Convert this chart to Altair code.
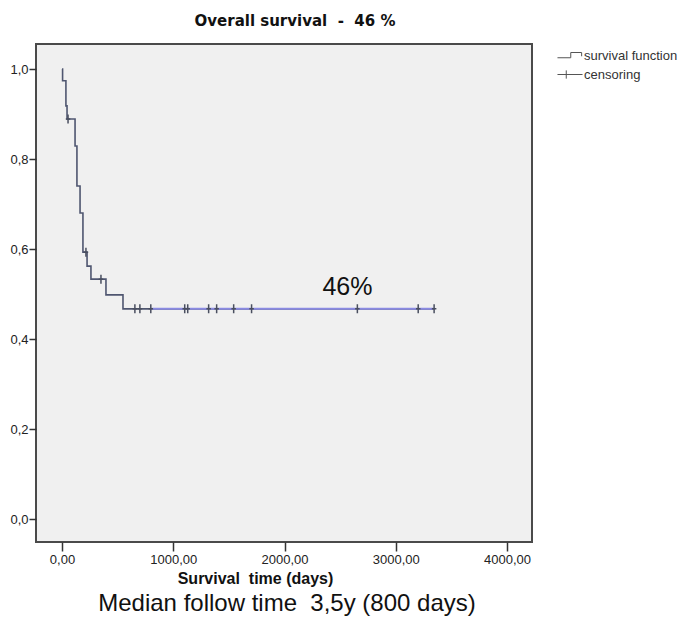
import altair as alt
import pandas as pd

# Kaplan-Meier step curve (time in days, survival after the step)
step_time = [0, 5, 35, 45, 117, 134, 162, 188, 225, 260, 395, 548, 3345]
step_surv = [1.0, 0.974, 0.918, 0.889, 0.829, 0.740, 0.680, 0.593, 0.562, 0.533, 0.498, 0.467, 0.467]
# tail segment (drawn lighter, as in the picture)
tail_time = [798, 3345]
tail_surv = [0.467, 0.467]
# censored observations
cens_time = [54, 215, 350, 655, 700, 798, 1103, 1130, 1318, 1390, 1543, 1704, 2655, 3202, 3345]
cens_surv = [0.889, 0.593, 0.533] + [0.467] * 12
x_ticks = [0, 1000, 2000, 3000, 4000]
y_ticks = [0.0, 0.2, 0.4, 0.6, 0.8, 1.0]
legend_labels = ["survival function", "censoring"]
annot_text = ["46%"]
annot_time = [2566]
annot_surv = [0.498]
title_text = ["Overall survival  -  46 %"]
footnote = ["Median follow time  3,5y (800 days)"]

FONT = "Liberation Sans"
nb = lambda s: s.replace("  ", "\u00a0\u00a0")

step_df = pd.DataFrame({"t": step_time, "s": step_surv})
tail_df = pd.DataFrame({"t": tail_time, "s": tail_surv})
cens_df = pd.DataFrame({"t": cens_time, "s": cens_surv})
leg_df = pd.DataFrame({"series": legend_labels})
ann_df = pd.DataFrame({"t": annot_time, "s": annot_surv, "label": annot_text})
foot_df = pd.DataFrame({"label": [nb(f) for f in footnote]})
title_df = pd.DataFrame({"label": [nb(f) for f in title_text]})

xs = alt.Scale(domain=[-234, 4225], nice=False, zero=False)
ys = alt.Scale(domain=[-0.0511, 1.0556], nice=False, zero=False)

x_axis = alt.Axis(
    values=x_ticks,
    labelExpr="replace(format(datum.value, '.2f'), '.', ',')",
    tickSize=9, tickWidth=1.5, tickColor="#333",
    labelPadding=2, labelFontSize=13, labelColor="#222",
    domain=False, grid=False,
    title="Survival\u00a0\u00a0time (days)",
    titleFontSize=16, titleFontWeight="bold", titleColor="#111",
    titleX=219, titleY=41, titleBaseline="alphabetic", titleAlign="center",
)
y_axis = alt.Axis(
    values=y_ticks,
    labelExpr="replace(format(datum.value, '.1f'), '.', ',')",
    tickSize=7, tickWidth=1.5, tickColor="#333",
    labelPadding=1, labelFontSize=13, labelColor="#222",
    domain=False, grid=False, title=None,
)

line = alt.Chart(step_df).mark_line(
    interpolate="step-after", color="#4f5670", strokeWidth=1.6
).encode(
    x=alt.X("t:Q", scale=xs, axis=x_axis),
    y=alt.Y("s:Q", scale=ys, axis=y_axis),
)

tail = alt.Chart(tail_df).mark_line(color="#8a8ae2", strokeWidth=2).encode(
    x=alt.X("t:Q", scale=xs), y=alt.Y("s:Q", scale=ys)
)

cens = alt.Chart(cens_df).mark_point(
    shape="M 0 -1 V 1 M -0.5 0 H 0.5", size=81, filled=False,
    strokeWidth=1.5, color="#4a4f60", opacity=1,
).encode(x=alt.X("t:Q", scale=xs), y=alt.Y("s:Q", scale=ys))

step_path = "M -1.67 0.3 H 0.1 V -0.4 H 1.55 V 0.1"
cross_path = "M -1.67 0 H 1.67 M -0.5 -0.55 V 0.55"

legend_layer = alt.Chart(leg_df).mark_point(filled=False, color="#555").encode(
    shape=alt.Shape(
        "series:N",
        scale=alt.Scale(domain=legend_labels, range=[step_path, cross_path]),
        legend=alt.Legend(
            title=None, orient="none", legendX=526, legendY=3.5,
            symbolSize=225, symbolStrokeWidth=1, symbolStrokeColor="#555",
            symbolOpacity=1, labelFontSize=13, labelFont=FONT, labelColor="#333",
            labelOffset=6, rowPadding=4, padding=0,
        ),
    ),
    opacity=alt.value(0),
)

annot = alt.Chart(ann_df).mark_text(
    fontSize=25, font=FONT, color="#111", align="center", baseline="alphabetic"
).encode(x=alt.X("t:Q", scale=xs), y=alt.Y("s:Q", scale=ys), text="label:N")

foot = alt.Chart(foot_df).mark_text(
    fontSize=24, font=FONT, color="#111", align="center", baseline="alphabetic"
).encode(x=alt.value(251), y=alt.value(567), text="label:N")

title = alt.Chart(title_df).mark_text(
    fontSize=15, fontWeight="bold", font="DejaVu Sans", color="#111",
    align="center", baseline="alphabetic"
).encode(x=alt.value(259), y=alt.value(-18), text="label:N")

chart = alt.layer(line, tail, cens, legend_layer, annot, foot, title).properties(
    width=496, height=498,
    autosize=alt.AutoSizeParams(type="none"),
    padding={"left": 28, "top": 36, "right": 145, "bottom": 76},
    view=alt.ViewBackground(stroke="#4a4a4a", strokeWidth=2, fill="#f0f0f0"),
).configure_view(
    stroke="#4a4a4a", strokeWidth=2, fill="#f0f0f0"
).configure_axis(
    labelFont=FONT, titleFont=FONT
).configure(background="white")

chart.save("out.html", embed_options={"renderer": "svg", "actions": False})
